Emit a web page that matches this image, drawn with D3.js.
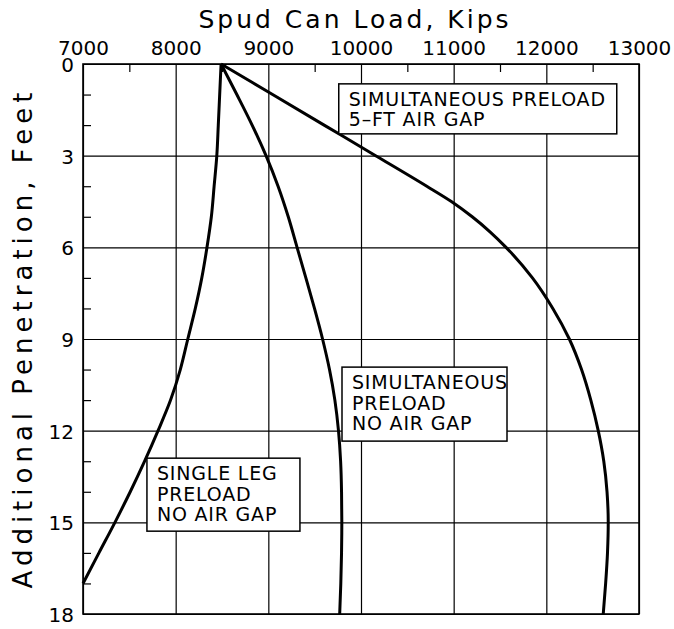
<!DOCTYPE html>
<html>
<head>
<meta charset="utf-8">
<script src="https://cdn.jsdelivr.net/npm/d3@7"></script>
<style>
  body { margin: 0; background: #fff; }
  text { font-family: "DejaVu Sans", sans-serif; fill: #000; }
</style>
</head>
<body>
<div id="chart"></div>
<script>
// tick values
var loadTicks = [7000, 8000, 9000, 10000, 11000, 12000, 13000];
var loadMinor = [7500, 8500, 9500, 10500, 11500, 12500];
var depthTicks = [0, 3, 6, 9, 12, 15, 18];
var depthMinor = [1, 2, 4, 5, 7, 8, 10, 11, 13, 14, 16, 17];

// single leg preload, no air gap
var singleDepth = [0, 1, 2, 3, 4, 5, 6, 7, 8, 9, 10, 11, 12, 13, 14, 15, 16, 17];
var singleLoad = [8490, 8475, 8460, 8444, 8415, 8385, 8338, 8282, 8212, 8131, 8050, 7945, 7810, 7665, 7510, 7345, 7172, 7000];

// simultaneous preload, no air gap
var noGapDepth = [0, 1, 2, 3, 4, 5, 6, 7, 8, 9, 10, 11, 12, 13, 14, 15, 16, 17, 18];
var noGapLoad = [8490, 8660, 8825, 8975, 9105, 9215, 9310, 9405, 9498, 9585, 9660, 9718, 9757, 9780, 9790, 9793, 9790, 9782, 9770];

// simultaneous preload, 5-ft air gap
var airGapDepth = [0, 1, 2, 3, 4, 4.5, 5, 5.5, 6, 7, 8, 9, 10, 11, 12, 13, 14, 15, 16, 17, 18];
var airGapLoad = [8490, 9046, 9602, 10158, 10710, 10975, 11200, 11395, 11565, 11850, 12070, 12248, 12380, 12480, 12560, 12620, 12655, 12668, 12660, 12640, 12614];

// labels: [load, depth] of top-left corner, box size, lines
var notes = [
    {load: 9760, depth: 0.65, w: 278, h: 50, lines: ["SIMULTANEOUS PRELOAD", "5\u2013FT AIR GAP"]},
    {load: 9795, depth: 9.92, w: 165, h: 74, lines: ["SIMULTANEOUS", "PRELOAD", "NO AIR GAP"]},
    {load: 7690, depth: 12.9, w: 153, h: 73, lines: ["SINGLE LEG", "PRELOAD", "NO AIR GAP"]}
];

function init() {
    var w = 674, h = 629;
    var left = 83, top = 64, right = 639, bottom = 614;

    var xscale = d3.scaleLinear().domain([7000, 13000]).range([left, right]);
    var yscale = d3.scaleLinear().domain([0, 18]).range([top, bottom]);

    var svg = d3.select("#chart")
        .append("svg")
        .attr("width", w)
        .attr("height", h)
        .style("background", "#fff");

    // grid + labels
    var xAxis = d3.axisTop(xscale)
        .tickValues(loadTicks)
        .tickFormat(d3.format("d"))
        .tickSize(-(bottom - top))
        .tickPadding(9);
    var gx = svg.append("g")
        .attr("transform", "translate(0," + top + ")")
        .call(xAxis);
    gx.select(".domain").remove();
    gx.selectAll("line").attr("stroke", "#000").attr("stroke-width", 1.2);
    gx.selectAll("text").style("font-size", "20px").attr("fill", "#000");

    var yAxis = d3.axisLeft(yscale).tickValues(depthTicks).tickSize(-(right - left)).tickPadding(9);
    var gy = svg.append("g")
        .attr("transform", "translate(" + left + ",0)")
        .call(yAxis);
    gy.select(".domain").remove();
    gy.selectAll("line").attr("stroke", "#000").attr("stroke-width", 1.2);
    gy.selectAll("text").style("font-size", "20px").attr("fill", "#000").attr("dy", "0.38em");

    // minor ticks
    var gxm = svg.append("g")
        .attr("transform", "translate(0," + top + ")")
        .call(d3.axisTop(xscale).tickValues(loadMinor).tickSize(-8).tickFormat(""));
    gxm.select(".domain").remove();
    gxm.selectAll("line").attr("stroke", "#000").attr("stroke-width", 1.2);

    var gym = svg.append("g")
        .attr("transform", "translate(" + left + ",0)")
        .call(d3.axisLeft(yscale).tickValues(depthMinor).tickSize(-8).tickFormat(""));
    gym.select(".domain").remove();
    gym.selectAll("line").attr("stroke", "#000").attr("stroke-width", 1.2);

    // frame
    svg.append("rect")
        .attr("x", left).attr("y", top)
        .attr("width", right - left).attr("height", bottom - top)
        .attr("fill", "none").attr("stroke", "#000").attr("stroke-width", 1.6);

    // curves
    var line = d3.line()
        .x(function(d) { return xscale(d[0]); })
        .y(function(d) { return yscale(d[1]); })
        .curve(d3.curveMonotoneY);

    var series = [
        d3.zip(singleLoad, singleDepth),
        d3.zip(noGapLoad, noGapDepth),
        d3.zip(airGapLoad, airGapDepth)
    ];

    svg.selectAll("path.curve")
        .data(series)
        .enter()
        .append("path")
        .attr("class", "curve")
        .attr("d", line)
        .attr("fill", "none")
        .attr("stroke", "#000")
        .attr("stroke-width", 3)
        .attr("stroke-linejoin", "round");

    // note boxes
    var g = svg.selectAll("g.note")
        .data(notes)
        .enter()
        .append("g")
        .attr("class", "note")
        .attr("transform", function(d) {
            return "translate(" + xscale(d.load) + "," + yscale(d.depth) + ")";
        });

    g.append("rect")
        .attr("width", function(d) { return d.w; })
        .attr("height", function(d) { return d.h; })
        .attr("fill", "#fff")
        .attr("stroke", "#000")
        .attr("stroke-width", 1.5);

    g.each(function(d) {
        d3.select(this).selectAll("text")
            .data(d.lines)
            .enter()
            .append("text")
            .attr("x", 10)
            .attr("y", function(t, i) { return 22 + i * 20.5; })
            .style("font-size", "19px")
            .style("letter-spacing", "0.8px")
            .text(function(t) { return t; });
    });

    // titles
    svg.append("text")
        .attr("x", 355)
        .attr("y", 28)
        .attr("text-anchor", "middle")
        .style("font-size", "25px")
        .style("letter-spacing", "3px")
        .text("Spud Can Load, Kips");

    svg.append("text")
        .attr("transform", "translate(32,338) rotate(-90)")
        .attr("text-anchor", "middle")
        .style("font-size", "26px")
        .style("letter-spacing", "5px")
        .text("Additional Penetration, Feet");
}

window.onload = init;
</script>
</body>
</html>
